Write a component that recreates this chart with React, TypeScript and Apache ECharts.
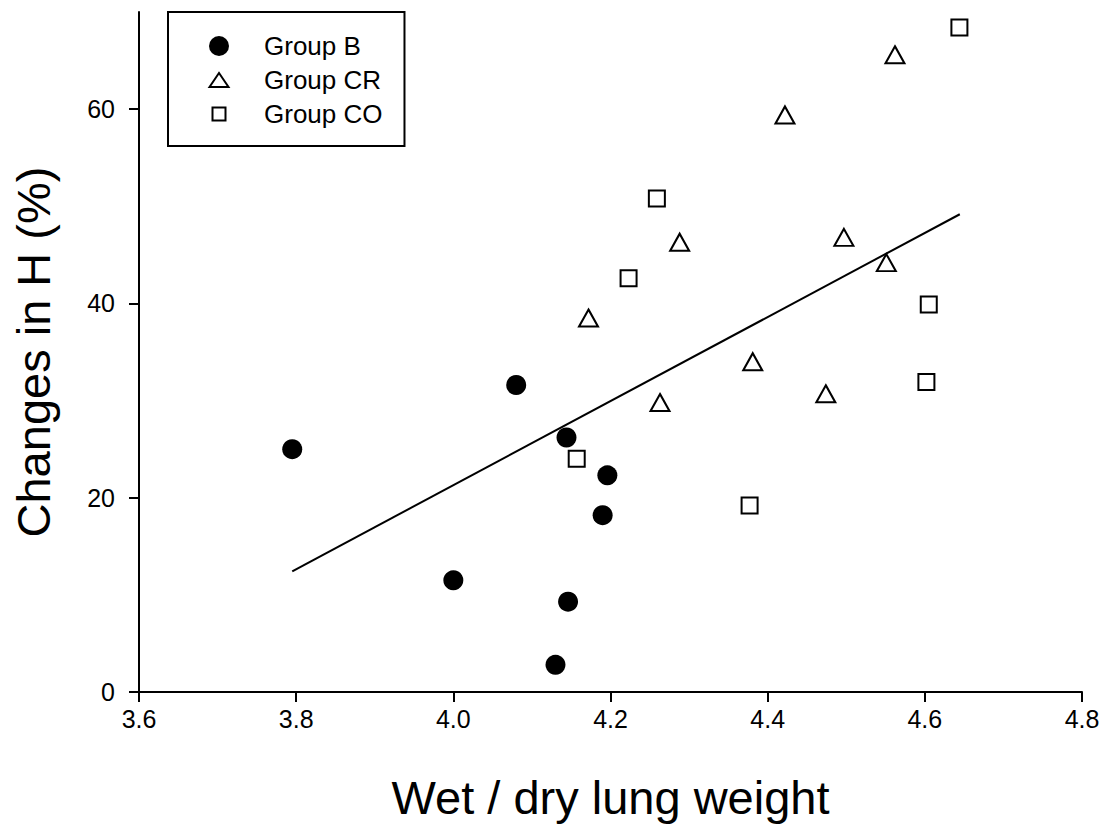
import React, { useEffect, useRef } from "react";
import * as echarts from "echarts";

const groupB: [number, number][] = [
  [3.795, 25.0],
  [4.08, 31.6],
  [4.144, 26.2],
  [4.196, 22.3],
  [4.19, 18.2],
  [4.0, 11.5],
  [4.146, 9.3],
  [4.13, 2.8],
];

const groupCR: [number, number][] = [
  [4.562, 65.6],
  [4.422, 59.4],
  [4.288, 46.3],
  [4.497, 46.8],
  [4.551, 44.2],
  [4.172, 38.5],
  [4.381, 34.0],
  [4.474, 30.7],
  [4.263, 29.8],
];

const groupCO: [number, number][] = [
  [4.644, 68.4],
  [4.259, 50.8],
  [4.223, 42.6],
  [4.605, 39.9],
  [4.602, 31.9],
  [4.377, 19.2],
  [4.157, 24.0],
];

const regressionLine: [number, number][] = [
  [3.795, 12.42],
  [4.6445, 49.18],
];

const xTicks = [3.6, 3.8, 4.0, 4.2, 4.4, 4.6, 4.8];
const yTicks = [0, 20, 40, 60];

const FONT = "'Liberation Sans', Arial, Helvetica, sans-serif";

// legend icons: an 80x20 frame (set by lone move-to points) with the visible mark centred in it
const legendCircleIcon = "path://M0,0 M80,20 M30,10 A10,10 0 1,1 50,10 A10,10 0 1,1 30,10 Z";
const legendTriangleIcon = "path://M0,0 M80,20 M30.5,17 L40,3 L49.5,17 Z";
const legendSquareIcon = "path://M0,0 M80,20 M33.5,3.5 L46.5,3.5 L46.5,16.5 L33.5,16.5 Z";

export default function App() {
  const ref = useRef<HTMLDivElement>(null);

  useEffect(() => {
    if (!ref.current) return;
    const chart = echarts.init(ref.current, undefined, { renderer: "svg" });
    const axisCommon = {
      axisLine: { show: true, lineStyle: { color: "#000", width: 2 } },
      axisTick: { show: true, inside: false, length: 10, lineStyle: { color: "#000", width: 2 } },
      splitLine: { show: false },
    };
    chart.setOption({
      animation: false,
      backgroundColor: "#fff",
      textStyle: { fontFamily: FONT },
      grid: {
        left: 139,
        right: 28,
        top: 12,
        bottom: 139,
        containLabel: false,
        outerBoundsMode: "none",
      },
      legend: {
        orient: "vertical",
        left: 168,
        top: 12,
        padding: [21, 22, 19, 10],
        itemWidth: 80,
        itemHeight: 20,
        itemGap: 8,
        borderColor: "#000",
        borderWidth: 2,
        borderRadius: 0,
        backgroundColor: "#fff",
        symbolKeepAspect: true,
        textStyle: { fontFamily: FONT, fontSize: 26, color: "#000" },
        data: [
          { name: "Group B", icon: legendCircleIcon },
          { name: "Group CR", icon: legendTriangleIcon },
          { name: "Group CO", icon: legendSquareIcon },
        ],
      },
      xAxis: {
        type: "value",
        min: 3.6,
        max: 4.8,
        interval: 0.2,
        name: "Wet / dry lung weight",
        nameLocation: "middle",
        nameGap: 82,
        nameTextStyle: { fontFamily: FONT, fontSize: 47, color: "#000" },
        ...axisCommon,
        axisTick: { ...axisCommon.axisTick, customValues: xTicks },
        axisLabel: {
          customValues: xTicks,
          margin: 14,
          fontFamily: FONT,
          fontSize: 25,
          color: "#000",
          formatter: (v: number) => v.toFixed(1),
        },
      },
      yAxis: {
        type: "value",
        min: 0,
        max: 70,
        interval: 10,
        name: "Changes in H (%)",
        nameLocation: "middle",
        nameGap: 82,
        nameTextStyle: { fontFamily: FONT, fontSize: 47, color: "#000" },
        ...axisCommon,
        axisTick: { ...axisCommon.axisTick, customValues: yTicks },
        axisLabel: {
          customValues: yTicks,
          margin: 24,
          fontFamily: FONT,
          fontSize: 25,
          color: "#000",
          formatter: (v: number) => String(v),
        },
      },
      series: [
        {
          name: "Regression",
          type: "line",
          data: regressionLine,
          symbol: "none",
          lineStyle: { color: "#000", width: 2 },
          z: 1,
          legendHoverLink: false,
        },
        {
          name: "Group B",
          type: "scatter",
          data: groupB,
          symbol: "circle",
          symbolSize: 20,
          itemStyle: { color: "#000", opacity: 1 },
          z: 3,
        },
        {
          name: "Group CR",
          type: "scatter",
          data: groupCR,
          symbol: "triangle",
          symbolSize: [19, 17],
          itemStyle: { color: "#fff", borderColor: "#000", borderWidth: 2, opacity: 1 },
          z: 3,
        },
        {
          name: "Group CO",
          type: "scatter",
          data: groupCO,
          symbol: "rect",
          symbolSize: 16,
          itemStyle: { color: "#fff", borderColor: "#000", borderWidth: 2, opacity: 1 },
          z: 3,
        },
      ],
    });
    return () => chart.dispose();
  }, []);

  return (
    <div
      ref={ref}
      style={{ position: "absolute", left: 0, top: 0, width: 1110, height: 831 }}
    />
  );
}
